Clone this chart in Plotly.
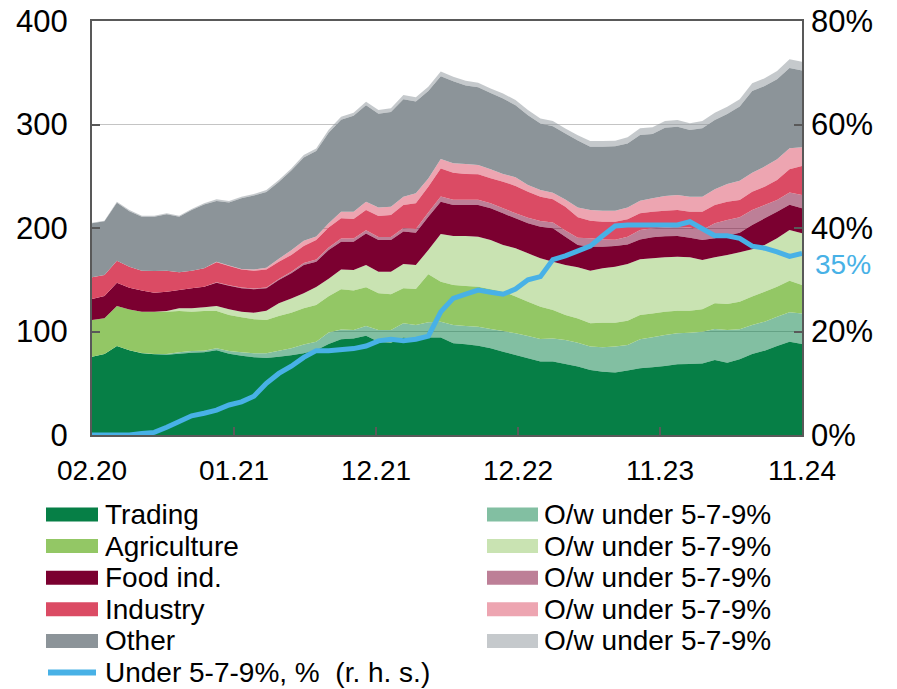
import numpy as np
import plotly.graph_objects as go

# ---------------- data ----------------
# monthly observations, 02.20 ... 11.24
start_year, start_month, n_months = 2020, 2, 58
months = []
for k in range(n_months):
    m = (start_month - 1 + k) % 12 + 1
    y = start_year + (start_month - 1 + k) // 12
    months.append(f"{m:02d}.{str(y)[2:]}")

tick_labels = ["02.20", "01.21", "12.21", "12.22", "11.23", "11.24"]

trading = [75.7, 78.3, 86.0, 82.0, 79.0, 78.0, 77.5, 78.5, 79.5, 80.0,
           82.0, 78.5, 76.5, 75.0, 74.5, 75.5, 77.0, 79.0, 82.0, 88.0,
           92.4, 93.3, 95.8, 90.0, 89.1, 94.2, 92.4, 94.2, 94.2, 88.6,
           87.6, 86.3, 83.7, 80.5, 77.3, 74.1, 70.9, 70.9, 68.6, 66.1,
           62.8, 61.2, 60.5, 62.2, 64.4, 65.4, 66.7, 68.3, 68.6, 69.2,
           72.5, 69.9, 73.1, 78.3, 81.5, 86.0, 90.2, 87.9]
trading_ow = [0, 0, 0, 0, 0.2, 0.3, 0.8, 1.4, 1.7, 1.5,
              1.8, 2.7, 3.4, 3.9, 4.4, 6.0, 6.8, 8.5, 8.0, 11.0,
              9.6, 8.1, 9.4, 11.4, 12.3, 13.7, 13.9, 14.7, 15.3, 17.7,
              17.6, 18.3, 18.7, 19.9, 20.9, 21.5, 21.8, 22.4, 23.1, 23.0,
              22.6, 23.5, 24.9, 24.8, 28.1, 29.0, 29.9, 29.9, 30.3, 30.6,
              29.9, 31.5, 29.0, 28.0, 28.0, 28.3, 28.3, 29.6]
agriculture = [35.4, 34.4, 38.6, 39.3, 40.0, 40.9, 40.9, 39.9, 38.0, 38.3,
               36.0, 34.8, 33.8, 32.9, 32.2, 33.4, 34.4, 34.9, 35.6, 35.0,
               38.8, 38.1, 37.5, 35.5, 34.5, 33.8, 34.8, 46.3, 38.6, 38.6,
               38.7, 38.7, 38.4, 38.1, 35.5, 33.2, 31.3, 27.5, 24.2, 23.4,
               22.5, 23.8, 23.1, 23.5, 23.5, 23.1, 22.6, 21.9, 21.2, 21.6,
               24.8, 25.2, 26.7, 27.4, 29.0, 29.0, 30.6, 27.4]
agriculture_ow = [0, 0, 0, 0, 0, 0, 0.6, 2.6, 3.2, 3.6,
                  4.8, 5.4, 5.5, 6.4, 9.0, 12.3, 13.8, 14.6, 17.4, 17.0,
                  19.2, 19.8, 21.5, 20.9, 21.9, 23.5, 23.1, 23.5, 46.1, 47.4,
                  48.4, 48.3, 47.6, 45.1, 46.7, 46.7, 46.7, 46.7, 48.3, 49.5,
                  50.9, 52.5, 54.1, 54.7, 53.7, 53.2, 52.5, 52.2, 51.6, 47.7,
                  44.5, 47.3, 47.7, 45.8, 45.1, 46.7, 48.9, 50.1]
food = [20.3, 21.6, 22.6, 21.0, 20.3, 18.3, 18.7, 17.7, 19.3, 19.9,
        22.6, 22.9, 22.5, 22.6, 21.6, 22.6, 24.2, 27.3, 24.5, 27.7,
        26.8, 27.5, 30.6, 30.6, 30.6, 31.3, 31.3, 32.2, 31.2, 29.9,
        29.9, 30.6, 30.6, 30.6, 28.9, 29.0, 30.6, 32.2, 27.4, 21.6,
        23.2, 21.0, 20.0, 18.8, 19.3, 20.3, 20.3, 20.0, 18.8, 19.3,
        18.3, 18.6, 19.0, 23.5, 25.7, 25.8, 24.5, 24.0]
food_ow = [0, 0, 0, 0, 0, 0, 0, 0, 0, 0,
           0.5, 0.5, 0.7, 0.7, 0.8, 1.0, 1.5, 2.0, 2.0, 2.5,
           3.0, 3.0, 3.0, 3.0, 3.0, 3.5, 3.5, 4.0, 5.0, 5.0,
           5.0, 5.0, 5.0, 5.0, 5.0, 5.5, 5.5, 5.5, 6.0, 7.0,
           8.0, 7.0, 6.0, 7.5, 9.0, 8.7, 8.6, 9.0, 10.0, 9.7,
           14.5, 15.2, 14.8, 14.4, 12.9, 11.3, 11.7, 12.9]
industry = [20.9, 20.3, 21.2, 20.2, 19.3, 21.0, 20.3, 17.1, 17.1, 17.7,
            19.1, 18.5, 17.6, 17.3, 17.5, 16.6, 16.2, 16.3, 18.9, 19.4,
            19.5, 18.9, 19.6, 20.2, 21.2, 22.2, 24.8, 25.0, 27.2, 26.3,
            25.0, 24.7, 24.0, 25.6, 26.3, 25.1, 23.5, 22.5, 23.0, 19.9,
            17.1, 17.1, 17.5, 16.9, 16.2, 16.1, 16.1, 16.1, 15.3, 17.7,
            17.7, 17.7, 16.8, 17.7, 17.7, 19.3, 22.5, 28.0]
industry_ow = [0, 0, 0, 0, 0, 0, 0, 0, 0, 0,
               0.6, 0.5, 0.5, 1.0, 1.5, 3.0, 4.5, 5.0, 3.5, 4.0,
               6.5, 7.0, 8.0, 8.3, 8.0, 8.0, 9.7, 8.0, 9.0, 9.0,
               9.6, 9.0, 8.7, 7.4, 8.4, 6.4, 6.4, 6.4, 7.0, 9.4,
               10.3, 10.6, 10.6, 11.5, 12.2, 12.9, 14.3, 14.5, 14.5, 14.5,
               15.2, 17.1, 18.6, 18.4, 19.4, 20.0, 20.3, 18.1]
other = [52.3, 51.9, 56.0, 53.8, 52.1, 52.4, 54.4, 53.7, 58.6, 61.8,
         58.8, 60.8, 68.3, 71.6, 73.2, 74.0, 77.2, 80.4, 82.5, 87.4,
         88.8, 92.7, 93.1, 90.6, 91.5, 94.3, 88.8, 84.5, 80.0, 79.2,
         76.0, 75.0, 73.7, 72.8, 69.6, 67.5, 64.2, 64.2, 63.6, 64.6,
         61.2, 61.9, 62.2, 61.7, 63.4, 62.1, 65.9, 65.9, 64.3, 66.1,
         67.0, 67.7, 71.6, 78.8, 77.8, 77.3, 77.5, 74.2]
other_ow = [0.5, 0.5, 1.0, 1.0, 1.0, 1.0, 1.0, 1.0, 1.0, 1.0,
            1.5, 1.5, 1.5, 1.5, 2.0, 2.0, 2.0, 2.5, 2.5, 3.0,
            3.0, 3.0, 3.5, 3.5, 3.5, 4.0, 4.0, 4.0, 4.5, 4.5,
            4.5, 4.5, 4.5, 5.0, 5.0, 5.0, 5.0, 5.0, 5.0, 5.0,
            5.5, 5.5, 5.5, 6.0, 6.5, 6.5, 6.5, 6.5, 6.5, 7.0,
            7.0, 7.0, 7.0, 7.5, 7.5, 8.0, 8.5, 8.5]
share_pct = [0, 0, 0, 0, 0.3, 0.5, 1.5, 2.6, 3.7, 4.2,
             4.8, 5.8, 6.4, 7.5, 10.0, 11.9, 13.3, 15.0, 16.3, 16.3,
             16.4, 16.7, 17.2, 18.2, 18.5, 18.2, 18.5, 19.1, 23.8, 26.4,
             27.2, 28.0, 27.6, 27.2, 28.2, 30.0, 30.6, 33.9, 34.6, 35.5,
             36.5, 38.5, 40.4, 40.6, 40.6, 40.7, 40.8, 40.6, 41.2, 39.9,
             38.5, 38.5, 38.0, 36.5, 36.1, 35.4, 34.5, 35.1]

main_names = ["Trading", "Agriculture", "Food ind.", "Industry", "Other"]
ow_name = "O/w under 5-7-9%"
line_name = "Under 5-7-9%, %  (r. h. s.)"

# ---------------- styles ----------------
FONT = "Liberation Sans, Arial, sans-serif"
FS = 28        # legend, x tick labels, end label
FS_Y = 31      # value-axis tick labels
AXIS = "#595959"
BLUE = "#48B1E6"
main_colors = ["#067F46", "#93C765", "#7B0030", "#DB4B64", "#8C9499"]


def half(hex_color):
    h = hex_color.lstrip("#")
    r, g, b = (int(h[i:i + 2], 16) for i in (0, 2, 4))
    return f"rgba({r},{g},{b},0.5)"


main_series = [trading, agriculture, food, industry, other]
ow_series = [trading_ow, agriculture_ow, food_ow, industry_ow, other_ow]

x = list(range(len(months)))

fig = go.Figure()
for name, vals, owvals, col in zip(main_names, main_series, ow_series, main_colors):
    fig.add_trace(go.Scatter(
        x=x, y=vals, customdata=months, name=name, stackgroup="one",
        mode="none", fillcolor=col, line=dict(width=0), showlegend=False,
        hovertemplate="%{customdata}: %{y}<extra>" + name + "</extra>"))
    fig.add_trace(go.Scatter(
        x=x, y=owvals, customdata=months, name=ow_name, stackgroup="one",
        mode="none", fillcolor=half(col), line=dict(width=0), showlegend=False,
        hovertemplate="%{customdata}: %{y}<extra>" + name + " o/w</extra>"))

fig.add_trace(go.Scatter(
    x=x, y=share_pct, customdata=months, name=line_name, yaxis="y2",
    mode="lines", line=dict(color=BLUE, width=5), showlegend=False,
    hovertemplate="%{customdata}: %{y}%<extra></extra>"))

# end label of the blue line
fig.add_annotation(x=x[-1], y=share_pct[-1], xref="x", yref="y2",
                   text=f"{share_pct[-1]:.0f}%", showarrow=False,
                   xanchor="left", yanchor="middle", xshift=11, yshift=-11,
                   font=dict(family=FONT, size=FS, color=BLUE))

# ---------------- layout ----------------
W, H = 897, 689
ML, MR, MT, MB = 92, 95, 21, 254
PW, PH = W - ML - MR, H - MT - MB


def px(p):
    return (p - ML) / PW


def py(p):
    return (H - MB - p) / PH


tick_pos = list(np.linspace(0, len(months) - 1, len(tick_labels)))

fig.update_layout(
    width=W, height=H,
    margin=dict(l=ML, r=MR, t=MT, b=MB, pad=0, autoexpand=False),
    paper_bgcolor="white", plot_bgcolor="white",
    font=dict(family=FONT, size=FS, color="black"),
    showlegend=False,
    xaxis=dict(range=[0, len(months) - 1], tickmode="array", tickvals=tick_pos,
               ticktext=tick_labels, ticks="inside", ticklen=8, tickwidth=1.5,
               tickcolor=AXIS, showline=True, linecolor=AXIS, linewidth=2,
               mirror=True, showgrid=False, zeroline=False, automargin=False,
               tickfont=dict(size=FS), ticklabelstandoff=9),
    yaxis=dict(range=[0, 400], tickmode="linear", tick0=0, dtick=100,
               ticks="inside", ticklen=8, tickwidth=1.5, tickcolor=AXIS,
               showline=True, linecolor=AXIS, linewidth=2, mirror=True,
               showgrid=True, gridcolor="#C4C4C4", gridwidth=1,
               zeroline=False, automargin=False,
               tickfont=dict(size=FS_Y), ticklabelstandoff=16),
    yaxis2=dict(range=[0, 80], tickmode="linear", tick0=0, dtick=20,
                ticksuffix="%", overlaying="y", side="right",
                ticks="inside", ticklen=8, tickwidth=1.5, tickcolor=AXIS,
                showline=False, showgrid=False, zeroline=False, automargin=False,
                tickfont=dict(size=FS_Y), ticklabelstandoff=8),
)

# ---------------- legend (two columns, drawn below the plot) ----------------
row_y0, row_step = 514.5, 31.6
left_sw, right_sw = (46, 98), (487, 538)
left_tx, right_tx = 103, 542
for k, (name, col) in enumerate(zip(main_names, main_colors)):
    cy = row_y0 + k * row_step
    fig.add_shape(type="rect", xref="paper", yref="paper",
                  x0=px(left_sw[0]), x1=px(left_sw[1]),
                  y0=py(cy + 7), y1=py(cy - 7),
                  fillcolor=col, line=dict(width=0))
    fig.add_annotation(xref="paper", yref="paper", x=px(left_tx), y=py(cy),
                       text=name, showarrow=False, xanchor="left",
                       yanchor="middle", font=dict(size=FS))
    fig.add_shape(type="rect", xref="paper", yref="paper",
                  x0=px(right_sw[0]), x1=px(right_sw[1]),
                  y0=py(cy + 7), y1=py(cy - 7),
                  fillcolor=half(col), line=dict(width=0))
    fig.add_annotation(xref="paper", yref="paper", x=px(right_tx), y=py(cy),
                       text=ow_name, showarrow=False, xanchor="left",
                       yanchor="middle", font=dict(size=FS))

cy = row_y0 + len(main_names) * row_step
fig.add_shape(type="line", xref="paper", yref="paper",
              x0=px(left_sw[0] + 2), x1=px(left_sw[1] - 2), y0=py(cy), y1=py(cy),
              line=dict(color=BLUE, width=6))
fig.add_annotation(xref="paper", yref="paper", x=px(left_tx), y=py(cy),
                   text=line_name, showarrow=False, xanchor="left",
                   yanchor="middle", font=dict(size=FS))

# the page's default body margin would shift the figure by 8 px
fig.write_html("out.html",
               config={"displayModeBar": False},
               post_script="document.body.style.margin='0';"
                           "document.body.style.overflow='hidden';")
